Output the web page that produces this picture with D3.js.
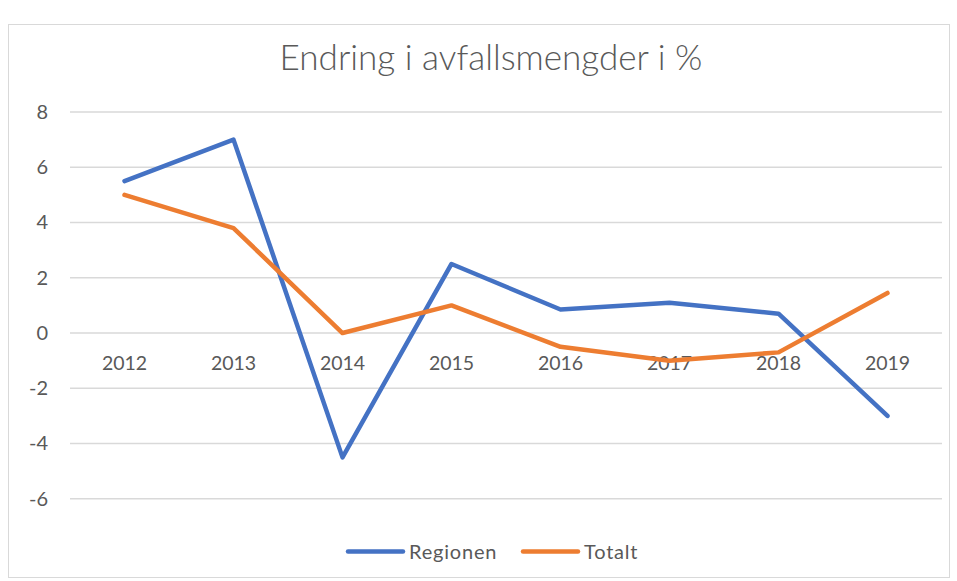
<!DOCTYPE html>
<html><head><meta charset="utf-8">
<script src="https://cdn.jsdelivr.net/npm/d3@7"></script>
<style>body{margin:0;background:#fff}svg{display:block}</style>
</head><body>
<script>
const years = ["2012","2013","2014","2015","2016","2017","2018","2019"];
const regionen = [5.5, 7.0, -4.5, 2.5, 0.85, 1.1, 0.7, -3.0];
const totalt = [5.0, 3.8, 0.0, 1.0, -0.5, -1.0, -0.7, 1.45];
const yTicks = [8, 6, 4, 2, 0, -2, -4, -6];
const seriesNames = ["Regionen", "Totalt"];
const colors = ["#4472C4", "#ED7D31"];

const W = 957, H = 581;
const svg = d3.select("body").append("svg").attr("width", W).attr("height", H);
const font = "Lato, 'Open Sans', sans-serif";

svg.append("rect").attr("x", 8.5).attr("y", 24.5).attr("width", 941).attr("height", 553)
  .attr("fill", "#fff").attr("stroke", "#d9d9d9").attr("stroke-width", 1);

const title = svg.append("text").attr("x", 491).attr("y", 70).attr("text-anchor", "middle")
  .attr("font-family", font).attr("font-size", 34).attr("font-weight", 300).attr("fill", "#595959")
  .text("Endring i avfallsmengder i %");
// fit the title to the reference width
const tl = title.node().getComputedTextLength();
if (tl > 0) title.attr("font-size", 34 * 423 / tl);

const x = d3.scaleBand().domain(years).range([70, 942]);
const y = d3.scaleLinear().domain([-6, 8]).range([498.8, 112]);

const grid = svg.append("g");
grid.selectAll("line").data(yTicks).join("line")
  .attr("x1", 70).attr("x2", 942)
  .attr("y1", d => y(d)).attr("y2", d => y(d))
  .attr("stroke", "#d9d9d9").attr("stroke-width", 1.5);

const yAxis = d3.axisLeft(y).tickValues(yTicks).tickSize(0).tickPadding(0).tickFormat(d => d < 0 ? "-" + Math.abs(d) : d);
const ya = svg.append("g").attr("transform", "translate(48,0)").call(yAxis);
ya.select(".domain").remove();
ya.selectAll("text").attr("font-family", font).attr("font-size", 20).attr("fill", "#595959");

const xAxis = d3.axisBottom(x).tickSize(0).tickPadding(0);
const xa = svg.append("g").attr("transform", `translate(0,${y(0) + 23})`).call(xAxis);
xa.select(".domain").remove();
xa.selectAll("text").attr("font-family", font).attr("font-size", 19.5).attr("fill", "#595959");

const line = d3.line().x((d, i) => x(years[i]) + x.bandwidth() / 2).y(d => y(d));
[regionen, totalt].forEach((s, k) => {
  svg.append("path").attr("d", line(s)).attr("fill", "none")
    .attr("stroke", colors[k]).attr("stroke-width", 4.5)
    .attr("stroke-linejoin", "round").attr("stroke-linecap", "round");
});

const legendX = [348, 523];
seriesNames.forEach((n, k) => {
  svg.append("line").attr("x1", legendX[k]).attr("x2", legendX[k] + 55)
    .attr("y1", 551.5).attr("y2", 551.5).attr("stroke", colors[k]).attr("stroke-width", 4.5)
    .attr("stroke-linecap", "round");
  svg.append("text").attr("x", legendX[k] + 61).attr("y", 559)
    .attr("font-family", font).attr("font-size", 20).attr("letter-spacing", 0.8)
    .attr("fill", "#595959").text(n);
});
</script>
</body></html>
